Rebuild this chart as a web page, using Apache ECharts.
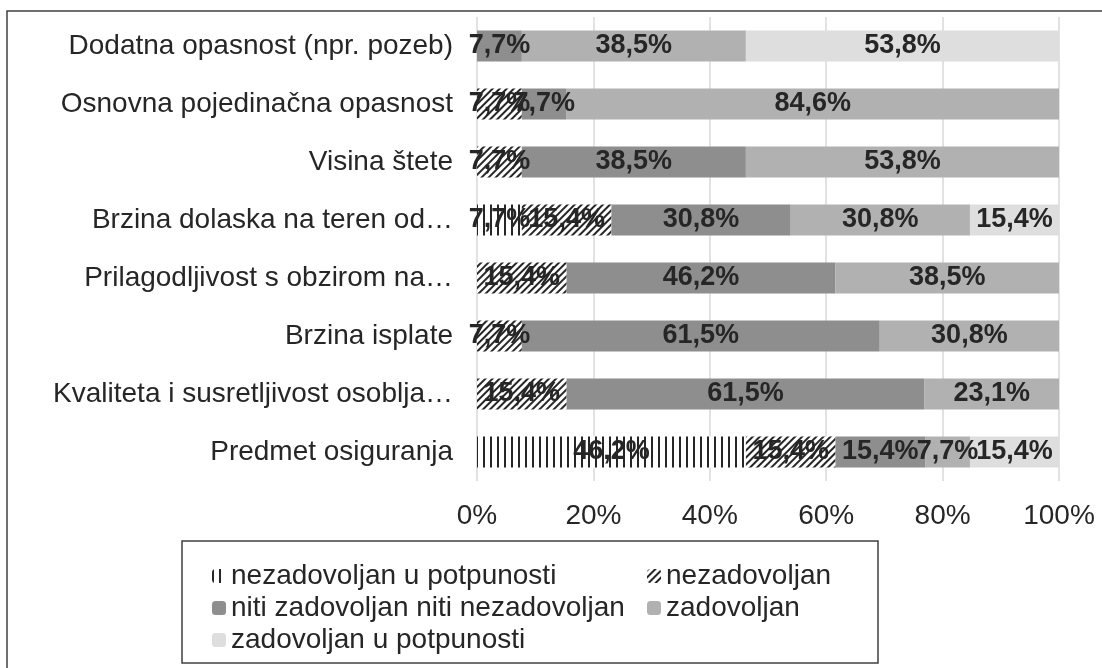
<!DOCTYPE html>
<html>
<head>
<meta charset="utf-8">
<script src="https://cdn.jsdelivr.net/npm/echarts@6/dist/echarts.min.js"></script>
<style>
  html, body { margin: 0; padding: 0; background: #fff; }
  #chart { width: 1102px; height: 668px; }
</style>
</head>
<body>
<div id="chart"></div>
<script>
const categories = [
    "Dodatna opasnost (npr. pozeb)",
    "Osnovna pojedinačna opasnost",
    "Visina štete",
    "Brzina dolaska na teren od…",
    "Prilagodljivost s obzirom na…",
    "Brzina isplate",
    "Kvaliteta i susretljivost osoblja…",
    "Predmet osiguranja"
];
const seriesNames = [
    "nezadovoljan u potpunosti",
    "nezadovoljan",
    "niti zadovoljan niti nezadovoljan",
    "zadovoljan",
    "zadovoljan u potpunosti"
];
// one value per category, top to bottom; null = no segment
const nezadovoljanPotpuno = [null, null, null, 7.7, null, null, null, 46.2];
const nezadovoljan = [null, 7.7, 7.7, 15.4, 15.4, 7.7, 15.4, 15.4];
const niti = [7.7, 7.7, 38.5, 30.8, 46.2, 61.5, 61.5, 15.4];
const zadovoljan = [38.5, 84.6, 53.8, 30.8, 38.5, 30.8, 23.1, 7.7];
const zadovoljanPotpuno = [53.8, null, null, 15.4, null, null, null, 15.4];
const xTicks = [0, 20, 40, 60, 80, 100];

const font = "'Liberation Sans', Arial, sans-serif";
const textColor = "#262626";

const styles = [
    { color: "#ffffff", decal: { symbol: "rect", color: "#262626", dashArrayX: [1.4, 4.8], dashArrayY: [1, 0], symbolSize: 1 } },
    { color: "#ffffff", decal: { symbol: "rect", color: "#262626", dashArrayX: [1, 0], dashArrayY: [1.3, 2.6], symbolSize: 1, rotation: -Math.PI / 4 } },
    { color: "#8e8e8e" },
    { color: "#b1b1b1" },
    { color: "#dedede" }
];
const values = [nezadovoljanPotpuno, nezadovoljan, niti, zadovoljan, zadovoljanPotpuno];

let fmt = v => v.toFixed(1).replace(".", ",") + "%";

const series = seriesNames.map((name, i) => ({
    name: name,
    type: "bar",
    stack: "total",
    barWidth: 31,
    data: values[i],
    itemStyle: styles[i],
    label: {
        show: true,
        position: "inside",
        formatter: p => fmt(p.value),
        fontFamily: font,
        fontWeight: "bold",
        fontSize: 27,
        color: textColor
    },
    emphasis: { disabled: true }
}));

const legendBase = {
    orient: "vertical",
    top: 556,
    itemWidth: 14,
    itemHeight: 14,
    itemGap: 2,
    selectedMode: false,
    textStyle: { fontFamily: font, fontSize: 28, lineHeight: 30, color: textColor }
};

const option = {
    animation: false,
    grid: { left: 477, right: 43, top: 17, bottom: 187, containLabel: false },
    xAxis: {
        type: "value",
        min: xTicks[0],
        max: xTicks[xTicks.length - 1],
        interval: xTicks[1] - xTicks[0],
        axisLine: { show: false },
        axisTick: { show: false },
        splitLine: { lineStyle: { color: "#d9d9d9", width: 1.5 } },
        axisLabel: { formatter: "{value}%", fontFamily: font, fontSize: 28, color: textColor, margin: 21 }
    },
    yAxis: {
        type: "category",
        data: categories,
        inverse: true,
        axisLine: { show: false },
        axisTick: { show: false },
        axisLabel: { fontFamily: font, fontSize: 28, color: textColor, margin: 24 }
    },
    legend: [
        Object.assign({}, legendBase, { left: 207, data: [seriesNames[0], seriesNames[2], seriesNames[4]] }),
        Object.assign({}, legendBase, { left: 642, data: [seriesNames[1], seriesNames[3]] })
    ],
    graphic: [
        { type: "rect", shape: { x: 7, y: 11, width: 1120, height: 700 }, style: { fill: "none", stroke: "#404040", lineWidth: 1.5 }, silent: true },
        { type: "rect", shape: { x: 182, y: 541, width: 696, height: 122 }, style: { fill: "none", stroke: "#404040", lineWidth: 1.5 }, silent: true }
    ],
    series: series
};

const chart = echarts.init(document.querySelector("#chart"), null, { renderer: "canvas" });
chart.setOption(option);
window.onresize = () => { chart.resize() };
</script>
</body>
</html>
